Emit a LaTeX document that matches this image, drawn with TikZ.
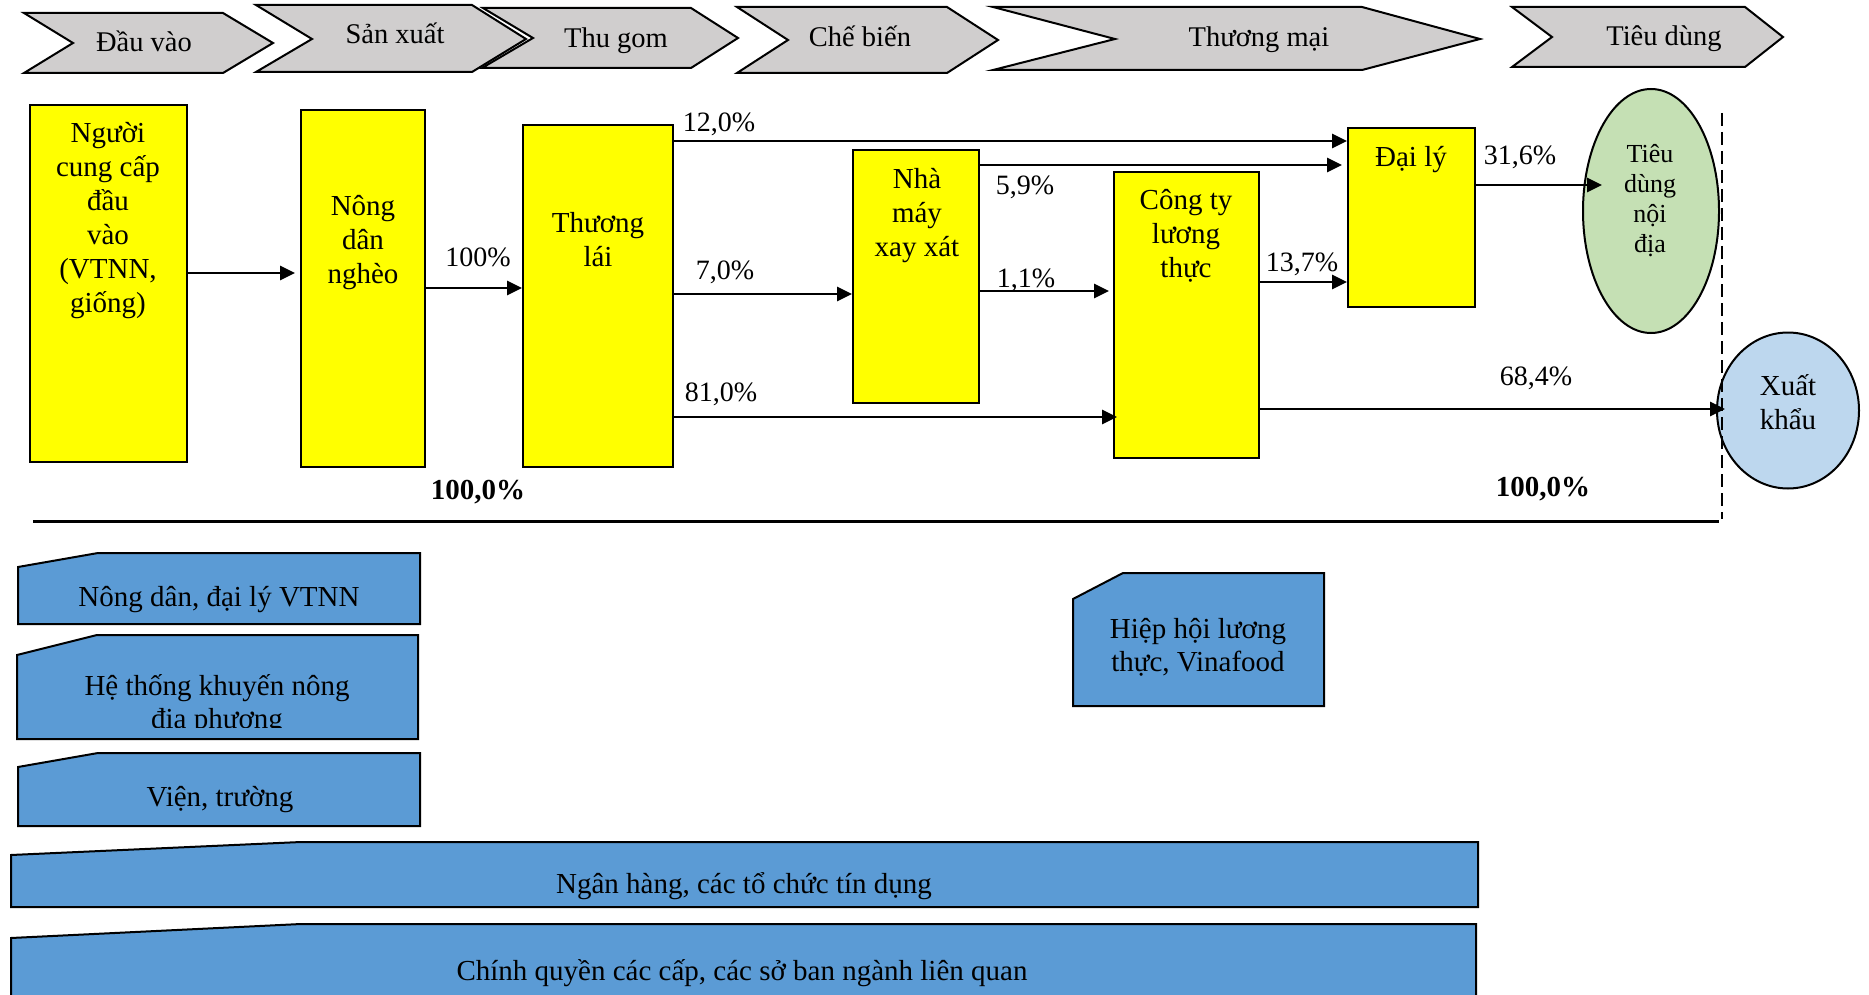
\documentclass[tikz,border=0pt]{standalone}
\usepackage{fontspec}
\setmainfont{Liberation Serif}
\usetikzlibrary{arrows.meta,shapes.geometric}
\definecolor{hdrgray}{RGB}{208,206,206}
\definecolor{ylw}{RGB}{255,255,0}
\definecolor{grn}{RGB}{197,224,180}
\definecolor{lblue}{RGB}{189,215,238}
\definecolor{mblue}{RGB}{91,155,213}
\begin{document}
\begin{tikzpicture}[x=1pt,y=-1pt,
  hdr/.style={draw=black, line width=2pt, fill=hdrgray, line join=miter},
  hdrtxt/.style={font=\fontsize{28.5}{33}\selectfont, inner sep=0, anchor=base},
  ybox/.style={draw=black, line width=2pt, fill=ylw, inner sep=0, rectangle},
  btxt/.style={font=\fontsize{29}{34}\selectfont, align=center, inner sep=0},
  etxt/.style={font=\fontsize{26}{30}\selectfont, align=center, inner sep=0},
  pct/.style={font=\fontsize{28}{33}\selectfont, inner sep=0},
  tot/.style={font=\fontsize{29}{34}\selectfont\bfseries, inner sep=0},
  arr/.style={line width=2.6pt, -{Triangle[length=15pt,width=14pt]}},
  bluebox/.style={draw=black, line width=2pt, fill=mblue, line join=miter},
  bltxt/.style={font=\fontsize{29}{33}\selectfont, align=center, inner sep=0},
]
\useasboundingbox (0,0) rectangle (1869,995);

% header chevrons
\draw[hdr] (24,13) -- (223,13) -- (273,43) -- (223,73) -- (24,73) -- (73,43) -- cycle;
\node[hdrtxt] (h1) at (144,52) {Đầu vào};
\draw[hdr] (256,5) -- (472,5) -- (526,39) -- (472,72) -- (256,72) -- (312,39) -- cycle;
\node[hdrtxt] (h2) at (395,44) {Sản xuất};
\draw[hdr] (483,8) -- (691,8) -- (738,38) -- (691,68) -- (482,68) -- (533,38) -- cycle;
\node[hdrtxt] (h3) at (616,48) {Thu gom};
\draw[hdr] (737,7) -- (947,7) -- (998,40) -- (947,73) -- (737,73) -- (788,40) -- cycle;
\node[hdrtxt] (h4) at (860,47) {Chế biến};
\draw[hdr] (993,7) -- (1362,7) -- (1480,39) -- (1362,70) -- (993,70) -- (1115,39) -- cycle;
\node[hdrtxt] (h5) at (1259,47) {Thương mại};
\draw[hdr] (1512,7) -- (1745,7) -- (1783,37) -- (1745,67) -- (1512,67) -- (1552,37) -- cycle;
\node[hdrtxt] (h6) at (1664,46) {Tiêu dùng};

% yellow boxes
\node[ybox, minimum width=157pt, minimum height=357pt] (b1) at (108.5,283.5) {};
\node[ybox, minimum width=124pt, minimum height=357pt] (b2) at (363,288.5) {};
\node[ybox, minimum width=150pt, minimum height=342pt] (b3) at (598,296) {};
\node[ybox, minimum width=126pt, minimum height=253pt] (nm) at (916,276.5) {};
\node[ybox, minimum width=145pt, minimum height=286pt] (ct) at (1186.5,315) {};
\node[ybox, minimum width=127pt, minimum height=179pt] (dl) at (1411.5,217.5) {};
\node[draw=black, line width=2pt, fill=grn, ellipse, inner sep=0, minimum width=136pt, minimum height=244pt] (td) at (1651,211) {};
\node[draw=black, line width=2pt, fill=lblue, ellipse, inner sep=0, minimum width=142pt, minimum height=156pt] (xk) at (1788,410.5) {};

\node[btxt] (b1t) at (108,221) {Người\\cung cấp\\đầu\\vào\\(VTNN,\\giống)};
\node[btxt] (b2t) at (363,243) {Nông\\dân\\nghèo};
\node[btxt] (b3t) at (598,240) {Thương\\lái};
\node[btxt] (nmt) at (917,216) {Nhà\\máy\\xay xát};
\node[btxt] (ctt) at (1186,236) {Công ty\\lương\\thực};
\node[btxt] (dlt) at (1411,160) {Đại lý};
\node[etxt] (tdt) at (1650,201) {Tiêu\\dùng\\nội\\địa};
\node[btxt] (xkt) at (1788,402) {Xuất\\khẩu};

% dashed boundary and base line
\coordinate (dtop) at (1722,113);
\coordinate (dbot) at (1722,519);
\draw[line width=2pt, dash pattern=on 13pt off 6pt] (dtop) -- (dbot);
\coordinate (ll) at (33,521);
\coordinate (lr) at (1719,521);
\draw[line width=3pt] (ll) -- (lr);

% arrows
\coordinate (tdin) at ([xshift=20pt]td.west);
\coordinate (xkin) at ([xshift=9pt]xk.west);
\draw[arr, shorten >=5pt] (b1.east |- 0,273) -- (b2.west |- 0,273);
\draw[arr] (b2.east |- 0,288) -- (b3.west |- 0,288);
\draw[arr] (b3.east |- 0,141) -- (dl.west |- 0,141);
\draw[arr, shorten >=5pt] (nm.east |- 0,165) -- (dl.west |- 0,165);
\draw[arr] (b3.east |- 0,294) -- (nm.west |- 0,294);
\draw[arr, shorten >=4pt] (nm.east |- 0,291) -- (ct.west |- 0,291);
\draw[arr] (ct.east |- 0,282) -- (dl.west |- 0,282);
\draw[arr, shorten >=-4pt] (b3.east |- 0,417) -- (ct.west |- 0,417);
\draw[arr] (dl.east |- 0,185) -- (tdin |- 0,185);
\draw[arr] (ct.east |- 0,409) -- (xkin |- 0,409);

% percentages
\node[pct] (p1) at (719,124.5) {12,0\%};
\node[pct] (p2) at (478,257.5) {100\%};
\node[pct] (p3) at (725,272.5) {7,0\%};
\node[pct] (p4) at (1025,187.5) {5,9\%};
\node[pct] (p5) at (1026,280.5) {1,1\%};
\node[pct] (p6) at (1302,264.5) {13,7\%};
\node[pct] (p7) at (721,394.5) {81,0\%};
\node[pct] (p8) at (1520,157.5) {31,6\%};
\node[pct] (p9) at (1536,378.5) {68,4\%};
\node[tot] (t1) at (478,492) {100,0\%};
\node[tot] (t2) at (1543,489) {100,0\%};

% blue boxes
\draw[bluebox] (18,567) -- (98,553) -- (420,553) -- (420,624) -- (18,624) -- cycle;
\node[bltxt] (bx1) at (219,600) {Nông dân, đại lý VTNN};
\draw[bluebox] (17,655) -- (97,635) -- (418,635) -- (418,739) -- (17,739) -- cycle;
\begin{scope}
\clip (17,600) rectangle (418,727);
\node[bltxt] (bx2) at (217,704.5) {Hệ thống khuyến nông\\địa phương};
\end{scope}
\draw[bluebox] (18,767) -- (98,753) -- (420,753) -- (420,826) -- (18,826) -- cycle;
\node[bltxt] (bx3) at (220,800) {Viện, trường};
\draw[bluebox] (11,855) -- (301,842) -- (1478,842) -- (1478,907) -- (11,907) -- cycle;
\node[bltxt] (bx4) at (744,886) {Ngân hàng, các tổ chức tín dụng};
\draw[bluebox] (11,938) -- (301,924) -- (1476,924) -- (1476,1010) -- (11,1010) -- cycle;
\node[bltxt] (bx5) at (742,973) {Chính quyền các cấp, các sở ban ngành liên quan};
\draw[bluebox] (1073,599) -- (1123,573) -- (1324,573) -- (1324,706) -- (1073,706) -- cycle;
\node[bltxt] (bx6) at (1198,647) {Hiệp hội lương\\thực, Vinafood};
\end{tikzpicture}
\end{document}
